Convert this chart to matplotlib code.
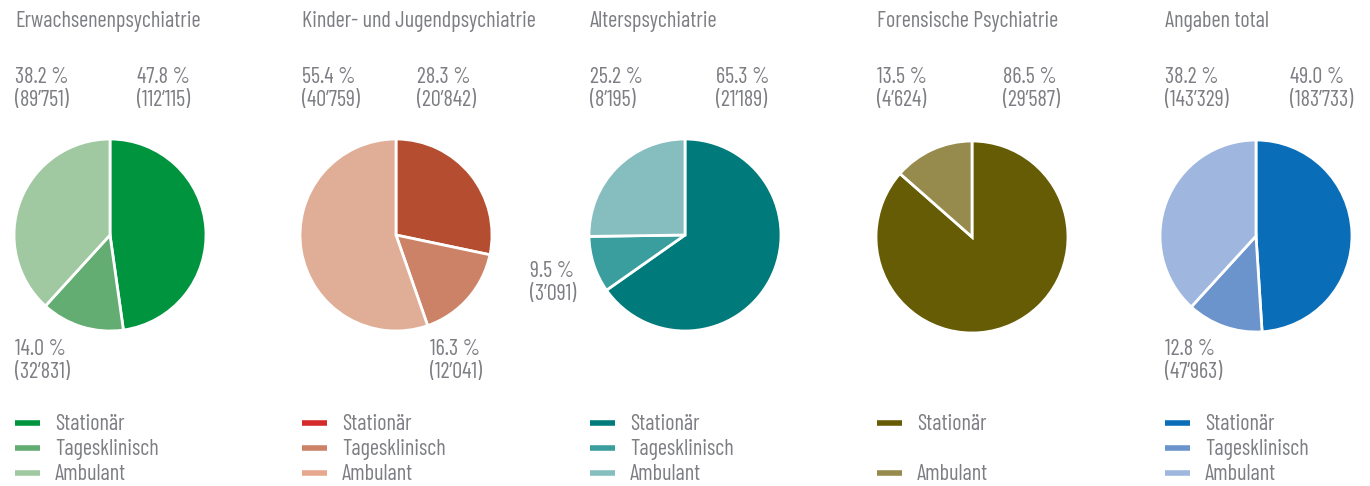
import matplotlib.pyplot as plt

plt.rcParams['font.family'] = ['Barlow Condensed', 'Archivo Narrow', 'DejaVu Sans']

titles = ['Erwachsenenpsychiatrie', 'Kinder- und Jugendpsychiatrie', 'Alterspsychiatrie',
          'Forensische Psychiatrie', 'Angaben total']
categories = ['Stationär', 'Tagesklinisch', 'Ambulant']

counts = [
    [112115, 32831, 89751],
    [20842, 12041, 40759],
    [21189, 3091, 8195],
    [29587, 0, 4624],
    [183733, 47963, 143329],
]
percents = [
    [47.8, 14.0, 38.2],
    [28.3, 16.3, 55.4],
    [65.3, 9.5, 25.2],
    [86.5, 0.0, 13.5],
    [49.0, 12.8, 38.2],
]
slice_colors = [
    ['#00943F', '#63AD72', '#A0C9A2'],
    ['#B54E30', '#CC8266', '#E0AE96'],
    ['#007A7A', '#3A9E9E', '#86BDBF'],
    ['#665C05', '#968A4C', '#968A4C'],
    ['#0A6DB8', '#6B93CC', '#9FB6DF'],
]
legend_colors = [
    ['#00943F', '#63AD72', '#A0C9A2'],
    ['#D42A2A', '#CC8266', '#E5A88D'],
    ['#007A7A', '#3A9E9E', '#86BDBF'],
    ['#665C05', None, '#968A4C'],
    ['#0A6DB8', '#6B93CC', '#9FB6DF'],
]

W, H = 1370, 486
grey = '#7D7E83'

# layout in pixels (top-left origin)
left_x = [15, 302, 590, 877, 1165]
right_x = [137, 417, 716, 1003, 1290]
centers = [(110, 235), (396, 235), (685, 235), (972, 237), (1256, 236)]
radius = 96
# where the Tagesklinisch label goes
tk_pos = [(15, 348), (430, 348), (530, 270), None, (1165, 348)]

fig = plt.figure(figsize=(W / 100, H / 100), dpi=100)
ax = fig.add_axes([0, 0, 1, 1])


def fy(y):
    return H - y


def fmt(pct, n):
    return f'{pct:.1f} %\n({n:,})'.replace(',', '’')


fs = 16
tw = 'normal'
for i in range(5):
    cx, cy = centers[i]
    vals = [v for v in counts[i] if v > 0]
    cols = [c for v, c in zip(counts[i], slice_colors[i]) if v > 0]
    ax.pie(vals, colors=cols, startangle=90, counterclock=False,
           center=(cx, fy(cy)), radius=radius,
           wedgeprops=dict(edgecolor='white', linewidth=2))

    ax.text(left_x[i], fy(22), titles[i], fontsize=fs, color=grey, va='center',
            ha='left', fontweight=tw)
    ax.text(left_x[i], fy(89), fmt(percents[i][2], counts[i][2]), fontsize=fs,
            color=grey, va='center', ha='left', linespacing=1.1, fontweight=tw)
    ax.text(right_x[i], fy(89), fmt(percents[i][0], counts[i][0]), fontsize=fs,
            color=grey, va='center', ha='left', linespacing=1.1, fontweight=tw)
    if tk_pos[i] is not None:
        tx, ty = tk_pos[i]
        ax.text(tx, fy(ty + 13), fmt(percents[i][1], counts[i][1]), fontsize=fs,
                color=grey, va='center', ha='left', linespacing=1.1, fontweight=tw)

    for k, cat in enumerate(categories):
        col = legend_colors[i][k]
        if col is None:
            continue
        ly = fy(423 + 25 * k)
        ax.plot([left_x[i], left_x[i] + 25], [ly, ly], color=col, lw=4,
                solid_capstyle='butt')
        ax.text(left_x[i] + 40, ly - 1.5, cat, fontsize=fs, color=grey, va='center',
                ha='left', fontweight=tw)

ax.set_xlim(0, W)
ax.set_ylim(0, H)
ax.set_aspect('auto')
ax.axis('off')
fig.savefig('out.png', dpi=100, facecolor='white')
